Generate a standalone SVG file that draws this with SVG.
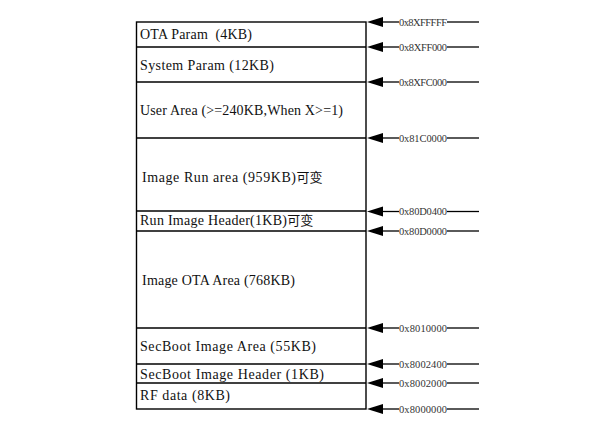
<svg xmlns="http://www.w3.org/2000/svg" width="592" height="425" viewBox="0 0 592 425">
<style>
.box{fill:none;stroke:#000;stroke-width:1.4}
.div{stroke:#000;stroke-width:1.4}
.lbl{font-family:"Liberation Serif","Noto Sans CJK SC",serif;font-size:14px;fill:#111}
.cjk{font-family:"Noto Sans CJK SC",sans-serif;font-size:13px}
.addr{font-family:"Liberation Serif",serif;font-size:10.5px;fill:#333}
.ln{stroke:#000;stroke-width:1.3}
.ah{fill:#000}
</style>
<defs>
<g id="arr">
<polygon class="ah" points="367,0 383,-5 383,5"/>
<line class="ln" x1="382" y1="0" x2="399" y2="0"/>
<line class="ln" x1="447" y1="0" x2="479" y2="0"/>
</g>
</defs>
<rect width="592" height="425" fill="#fff"/>
<g id="memory-map">
<rect class="box" x="136.5" y="22" width="229.5" height="387"/>
<g id="ota-param"><text class="lbl" x="140" y="39" textLength="112" lengthAdjust="spacing" xml:space="preserve">OTA Param  (4KB)</text></g>
<line class="div" x1="136.5" y1="47" x2="366" y2="47"/>
<g id="system-param"><text class="lbl" x="140" y="70" textLength="134" lengthAdjust="spacing">System Param (12KB)</text></g>
<line class="div" x1="136.5" y1="82" x2="366" y2="82"/>
<g id="user-area"><text class="lbl" x="140" y="115" textLength="203" lengthAdjust="spacing">User Area (&gt;=240KB,When X&gt;=1)</text></g>
<line class="div" x1="136.5" y1="138" x2="366" y2="138"/>
<g id="image-run-area"><text class="lbl" x="142" y="182"><tspan textLength="154" lengthAdjust="spacing">Image Run area (959KB)</tspan><tspan class="cjk">可变</tspan></text></g>
<line class="div" x1="136.5" y1="211" x2="366" y2="211"/>
<g id="run-image-header"><text class="lbl" x="140" y="225"><tspan textLength="147" lengthAdjust="spacing">Run Image Header(1KB)</tspan><tspan class="cjk">可变</tspan></text></g>
<line class="div" x1="136.5" y1="231" x2="366" y2="231"/>
<g id="image-ota-area"><text class="lbl" x="142" y="285" textLength="153" lengthAdjust="spacing">Image OTA Area (768KB)</text></g>
<line class="div" x1="136.5" y1="328" x2="366" y2="328"/>
<g id="secboot-image-area"><text class="lbl" x="140" y="351" textLength="176" lengthAdjust="spacing">SecBoot Image Area (55KB)</text></g>
<line class="div" x1="136.5" y1="364" x2="366" y2="364"/>
<g id="secboot-image-header"><text class="lbl" x="140" y="379" textLength="184" lengthAdjust="spacing">SecBoot Image Header (1KB)</text></g>
<line class="div" x1="136.5" y1="383" x2="366" y2="383"/>
<g id="rf-data"><text class="lbl" x="140" y="400" textLength="90" lengthAdjust="spacing">RF data (8KB)</text></g>
</g>
<g id="connectors">
<use href="#arr" y="22"/>
<use href="#arr" y="47"/>
<use href="#arr" y="82"/>
<use href="#arr" y="138"/>
<use href="#arr" y="211.5"/>
<use href="#arr" y="231"/>
<use href="#arr" y="328"/>
<use href="#arr" y="364"/>
<use href="#arr" y="383"/>
<use href="#arr" y="409"/>
</g>
<g id="addresses">
<text class="addr" x="399" y="25.5" textLength="48" lengthAdjust="spacing">0x8XFFFFF</text>
<text class="addr" x="399" y="50.5" textLength="48" lengthAdjust="spacing">0x8XFF000</text>
<text class="addr" x="399" y="85.5" textLength="48" lengthAdjust="spacing">0x8XFC000</text>
<text class="addr" x="399" y="141.5" textLength="48" lengthAdjust="spacing">0x81C0000</text>
<text class="addr" x="399" y="215" textLength="48" lengthAdjust="spacing">0x80D0400</text>
<text class="addr" x="399" y="234.5" textLength="48" lengthAdjust="spacing">0x80D0000</text>
<text class="addr" x="399" y="331.5" textLength="48" lengthAdjust="spacing">0x8010000</text>
<text class="addr" x="399" y="367.5" textLength="48" lengthAdjust="spacing">0x8002400</text>
<text class="addr" x="399" y="386.5" textLength="48" lengthAdjust="spacing">0x8002000</text>
<text class="addr" x="399" y="412.5" textLength="48" lengthAdjust="spacing">0x8000000</text>
</g>
</svg>
